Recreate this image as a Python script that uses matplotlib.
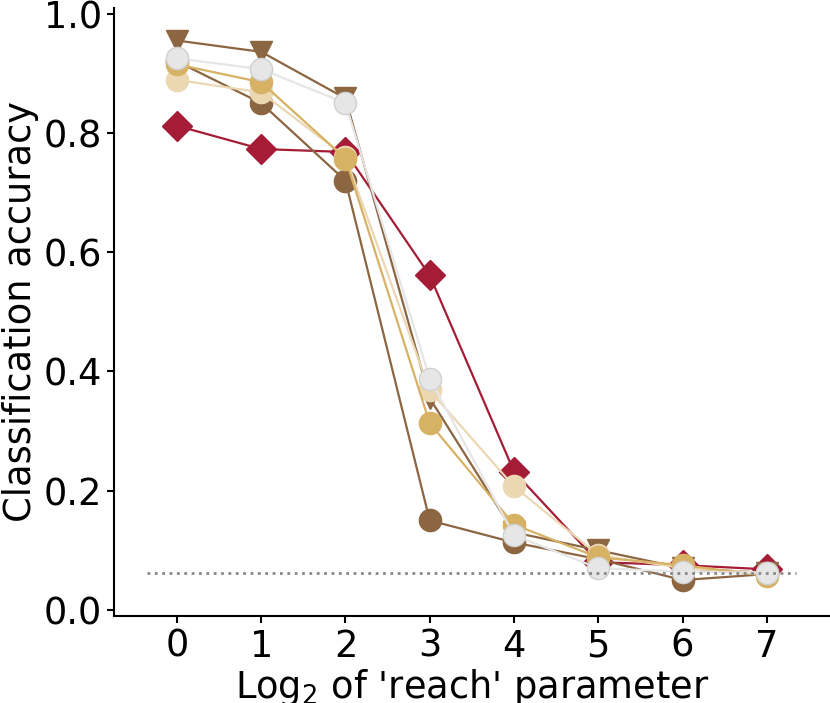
import numpy as np
import matplotlib.pyplot as plt

# log2 of 'reach' parameter
reach = [0, 1, 2, 3, 4, 5, 6, 7]

# classification accuracy per model
acc_red_diamond = [0.812, 0.773, 0.768, 0.561, 0.232, 0.080, 0.075, 0.068]
acc_brown_tri = [0.955, 0.936, 0.858, 0.355, 0.130, 0.100, 0.070, 0.062]
acc_brown_circ = [0.920, 0.850, 0.720, 0.150, 0.113, 0.085, 0.050, 0.060]
acc_beige_circ = [0.889, 0.868, 0.760, 0.368, 0.207, 0.092, 0.070, 0.062]
acc_gold_circ = [0.915, 0.885, 0.757, 0.313, 0.143, 0.088, 0.075, 0.057]
acc_grey_circ = [0.925, 0.907, 0.850, 0.388, 0.125, 0.070, 0.064, 0.062]

chance = 1 / 16.

fig = plt.figure(figsize=(8.3, 7.03), dpi=100)
ax = fig.add_axes([0.137, 0.124, 0.863, 0.865])

ax.plot(reach, acc_red_diamond, color='#A51C36', marker='D', ms=15, lw=1.6)
ax.plot(reach, acc_brown_tri, color='#8C6541', marker='v', ms=16, lw=1.6)
ax.plot(reach, acc_brown_circ, color='#8C6541', marker='o', ms=16, lw=1.6)
ax.plot(reach, acc_beige_circ, color='#EBD8B3', marker='o', ms=16, lw=1.6)
ax.plot(reach, acc_gold_circ, color='#D7B265', marker='o', ms=16, lw=1.6)
ax.plot(reach, acc_grey_circ, color='#E6E6E6', marker='o', ms=16, lw=1.6,
        mec='#D0D0D0', mew=1)

ax.plot([-0.35, 7.35], [chance, chance], ls=':', color='#888888', lw=2, zorder=10)

ax.set_xlim(-0.75, 7.75)
ax.set_ylim(-0.01, 1.01)
ax.set_xticks(reach)
ax.set_yticks([0.0, 0.2, 0.4, 0.6, 0.8, 1.0])
ax.set_yticklabels(['0.0', '0.2', '0.4', '0.6', '0.8', '1.0'])
ax.tick_params(labelsize=26.5, width=1.5, length=5)
ax.spines['top'].set_visible(False)
ax.spines['right'].set_visible(False)
ax.spines['left'].set_linewidth(1.5)
ax.spines['bottom'].set_linewidth(1.5)
ax.set_xlabel("Log$_2$ of 'reach' parameter", fontsize=26.5, labelpad=2)
ax.set_ylabel('Classification accuracy', fontsize=26.5, labelpad=3)

fig.savefig('out.png', dpi=100)
